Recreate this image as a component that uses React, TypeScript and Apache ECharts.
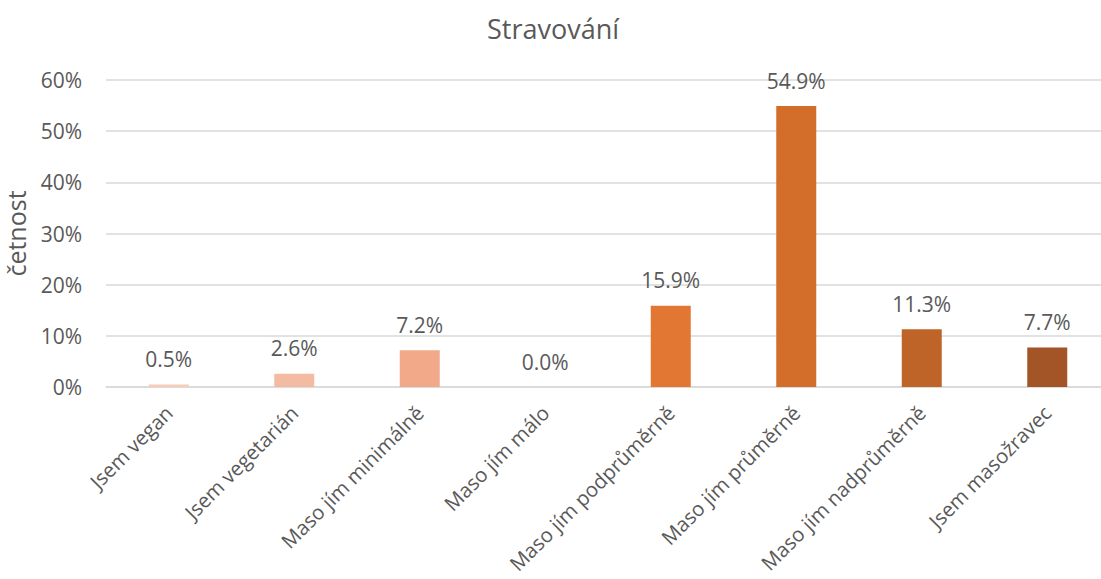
import React, { useEffect, useRef } from "react";
import * as echarts from "echarts";

const categories = [
  "Jsem vegan",
  "Jsem vegetarián",
  "Maso jím minimálně",
  "Maso jím málo",
  "Maso jím podprůměrně",
  "Maso jím průměrně",
  "Maso jím nadprůměrně",
  "Jsem masožravec",
];
const values = [0.5, 2.6, 7.2, 0.0, 15.9, 54.9, 11.3, 7.7];
const barColors = ["#f8ccb6", "#f4bba3", "#f1a98a", "#f1a98a", "#e17732", "#d26e2a", "#bf6428", "#a45527"];
const title = "Stravování";
const yName = "četnost";

const FONT = "'Open Sans', sans-serif";
const GREY = "#595959";

export default function App() {
  const ref = useRef<HTMLDivElement>(null);
  useEffect(() => {
    if (!ref.current) return;
    const chart = echarts.init(ref.current, undefined, { renderer: "svg" });
    chart.setOption({
      animation: false,
      backgroundColor: "#ffffff",
      title: {
        text: title,
        left: 548,
        textAlign: "center",
        top: 10,
        textStyle: { fontFamily: FONT, fontSize: 27, fontWeight: "normal", color: GREY },
      },
      grid: {
        left: 106,
        top: 80,
        width: 1004,
        height: 307,
        containLabel: false,
        outerBoundsMode: "none",
      },
      xAxis: {
        type: "category",
        data: categories,
        axisLine: { lineStyle: { color: "#d9d9d9", width: 1.5 } },
        axisTick: { show: false },
        axisLabel: {
          rotate: 45,
          interval: 0,
          margin: 22,
          fontFamily: FONT,
          fontSize: 20.3,
          color: GREY,
        },
      },
      yAxis: {
        type: "value",
        min: 0,
        max: 60,
        interval: 10,
        name: yName,
        nameLocation: "middle",
        nameGap: 78,
        nameTextStyle: { fontFamily: FONT, fontSize: 25, color: GREY },
        axisLine: { show: false },
        axisTick: { show: false },
        axisLabel: {
          formatter: (v: number) => `${v}%`,
          fontFamily: FONT,
          fontSize: 21,
          color: GREY,
          margin: 24,
        },
        splitLine: { lineStyle: { color: "#d9d9d9", width: 1.5 } },
      },
      series: [
        {
          type: "bar",
          barWidth: 40,
          data: values.map((v, i) => ({ value: v, itemStyle: { color: barColors[i] } })),
          label: {
            show: true,
            position: "top",
            distance: 15,
            formatter: (p: any) => `${Number(p.value).toFixed(1)}%`,
            fontFamily: FONT,
            fontSize: 21,
            color: GREY,
          },
        },
      ],
    });
    return () => chart.dispose();
  }, []);
  return (
    <div style={{ position: "fixed", left: 0, top: 0, width: 1101, height: 579, overflow: "hidden", background: "#fff" }}>
      <div ref={ref} style={{ width: 1130, height: 579 }} />
    </div>
  );
}
